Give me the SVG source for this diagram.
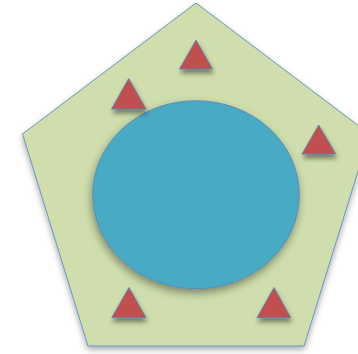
<svg xmlns="http://www.w3.org/2000/svg" width="358" height="354" viewBox="0 0 358 354">
  <defs>
    <filter id="sh" x="-20%" y="-20%" width="140%" height="140%">
      <feDropShadow dx="0" dy="3" stdDeviation="3" flood-color="#000" flood-opacity="0.35"/>
    </filter>
    <filter id="shc" x="-20%" y="-20%" width="140%" height="140%">
      <feDropShadow dx="-1" dy="4" stdDeviation="4" flood-color="#000" flood-opacity="0.4"/>
    </filter>
    <filter id="sht" x="-40%" y="-40%" width="180%" height="200%">
      <feDropShadow dx="1" dy="4" stdDeviation="2.5" flood-color="#000" flood-opacity="0.45"/>
    </filter>
  </defs>
  <style>
    .edge { stroke: #4f81bd; stroke-width: 0.8; }
    .tri { fill: #c0504d; }
  </style>
  <g id="pentagon">
    <polygon class="edge" points="196,3 369.5,134 304,346 88,346 22.5,134" fill="#cfdeac" filter="url(#sh)"/>
  </g>
  <g id="circle">
    <ellipse class="edge" cx="196" cy="194.7" rx="103.3" ry="94" fill="#4aaac4" filter="url(#shc)"/>
  </g>
  <g id="triangles">
    <polygon id="t1" class="tri edge" points="196,40 212.5,69 179.5,69" filter="url(#sht)"/>
    <polygon id="t2" class="tri edge" points="128.7,78.5 146,109 111.5,109" filter="url(#sht)"/>
    <polygon id="t3" class="tri edge" points="318.7,125 335.7,154 302,154" filter="url(#sht)"/>
    <polygon id="t4" class="tri edge" points="129,287.5 146,317.7 111.7,317.7" filter="url(#sht)"/>
    <polygon id="t5" class="tri edge" points="274,287.5 290.7,317.7 257,317.7" filter="url(#sht)"/>
  </g>
  <g id="connectors"></g>
</svg>
